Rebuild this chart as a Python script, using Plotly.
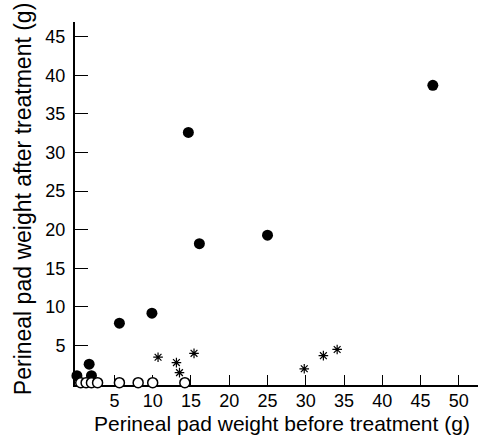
import plotly.graph_objects as go

# Filled circles
filled_x = [0.1, 1.7, 2.0, 5.65, 9.9, 14.66, 16.1, 25.0, 46.6]
filled_y = [1.1, 2.6, 1.1, 7.9, 9.2, 32.6, 18.2, 19.3, 38.7]

# Open circles
open_x = [0.6, 1.3, 2.0, 2.8, 5.65, 8.1, 10.0, 14.2]
open_y = [0.2, 0.2, 0.2, 0.2, 0.2, 0.2, 0.2, 0.2]

# Asterisks
star_x = [-0.5, 10.7, 13.1, 13.5, 15.4, 29.8, 32.3, 34.1]
star_y = [0.1, 3.5, 2.8, 1.5, 4.0, 2.0, 3.7, 4.5]

x_ticks = [5, 10, 15, 20, 25, 30, 35, 40, 45, 50]
y_ticks = [5, 10, 15, 20, 25, 30, 35, 40, 45]

x_title = "Perineal pad weight before treatment (g)"
y_title = "Perineal pad weight after treatment (g)"

fig = go.Figure()
fig.add_trace(go.Scatter(
    x=filled_x, y=filled_y, mode="markers", cliponaxis=False,
    marker=dict(symbol="circle", size=11, color="black", line=dict(width=0)),
))
fig.add_trace(go.Scatter(
    x=open_x, y=open_y, mode="markers", cliponaxis=False,
    marker=dict(symbol="circle", size=10, color="white", line=dict(width=1.5, color="black")),
))
fig.add_trace(go.Scatter(
    x=star_x, y=star_y, mode="markers", cliponaxis=False,
    marker=dict(symbol="asterisk-open", size=8, color="black", line=dict(width=1.2, color="black")),
))

font_family = "Liberation Sans, Arial, sans-serif"
fig.update_layout(
    width=483, height=441,
    margin=dict(l=75, r=5, t=22, b=56),
    paper_bgcolor="white", plot_bgcolor="white",
    showlegend=False,
    font=dict(family=font_family, color="black", size=18),
    xaxis=dict(
        range=[-0.15, 52.5], showgrid=False, zeroline=False,
        showline=True, linecolor="black", linewidth=2, layer="below traces",
        ticks="inside", ticklen=10, tickwidth=1, tickcolor="black",
        tickmode="array", tickvals=x_ticks, ticktext=[str(v) for v in x_ticks],
        tickfont=dict(size=18), ticklabelstandoff=-2,
    ),
    yaxis=dict(
        range=[-0.1, 46.9], showgrid=False, zeroline=False,
        showline=True, linecolor="black", linewidth=2, layer="below traces",
        ticks="inside", ticklen=13, tickwidth=1, tickcolor="black",
        tickmode="array", tickvals=y_ticks, ticktext=[str(v) for v in y_ticks],
        tickfont=dict(size=18), ticklabelstandoff=4,
    ),
    annotations=[
        dict(text=x_title, xref="paper", yref="paper", x=0.514, y=-0.107,
             xanchor="center", yanchor="middle", showarrow=False,
             font=dict(size=21)),
        dict(text=y_title, xref="paper", yref="paper", x=-0.129, y=0.512,
             xanchor="center", yanchor="middle", textangle=-90, showarrow=False,
             font=dict(size=23)),
    ],
)

fig.write_html("out.html")
